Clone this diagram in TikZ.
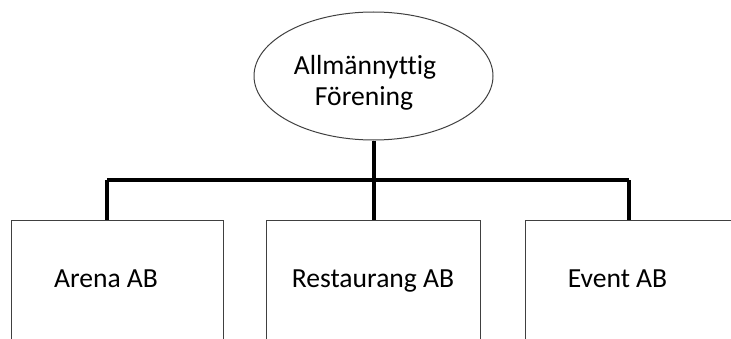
\documentclass[tikz,border=0pt]{standalone}
\usepackage{fontspec}
\setmainfont[Ligatures={NoCommon}]{Carlito}
\usetikzlibrary{shapes.geometric}
\begin{document}
\begin{tikzpicture}[x=1pt,y=1pt,
  boxst/.style={draw=black!75,line width=1pt,minimum height=160pt,inner sep=0pt,anchor=north},
  ellst/.style={ellipse,draw=black!75,line width=1pt,minimum width=239pt,minimum height=128pt,inner sep=0pt},
  lbl/.style={font=\fontsize{27.6}{30}\selectfont,anchor=base,inner sep=0pt},
  conn/.style={line width=4pt,black}]
\useasboundingbox (0,0) rectangle (731,338);
\clip (0,0) rectangle (731,338);
\node[ellst] (top) at (373.5,262) {};
\node[lbl] (t1) at (365,263) {Allmännyttig};
\node[lbl] (t2) at (364,233) {Förening};
\node[boxst,minimum width=212pt] (left) at (117,118.5) {};
\node[boxst,minimum width=214pt] (mid) at (373,118.5) {};
\node[boxst,minimum width=213pt] (right) at (631.5,118.5) {};
\node[lbl] (l1) at (106,51) {Arena AB};
\node[lbl] (l2) at (373,51) {Restaurang AB};
\node[lbl] (l3) at (617.5,51) {Event AB};
\coordinate (barL) at (107,158);
\coordinate (barR) at (629,158);
\draw[conn] (barL) -- (barR);
\draw[conn] (top.south) -- (top.south |- mid.north);
\draw[conn] (barL) -- (barL |- left.north);
\draw[conn] (barR) -- (barR |- right.north);
\end{tikzpicture}
\end{document}
